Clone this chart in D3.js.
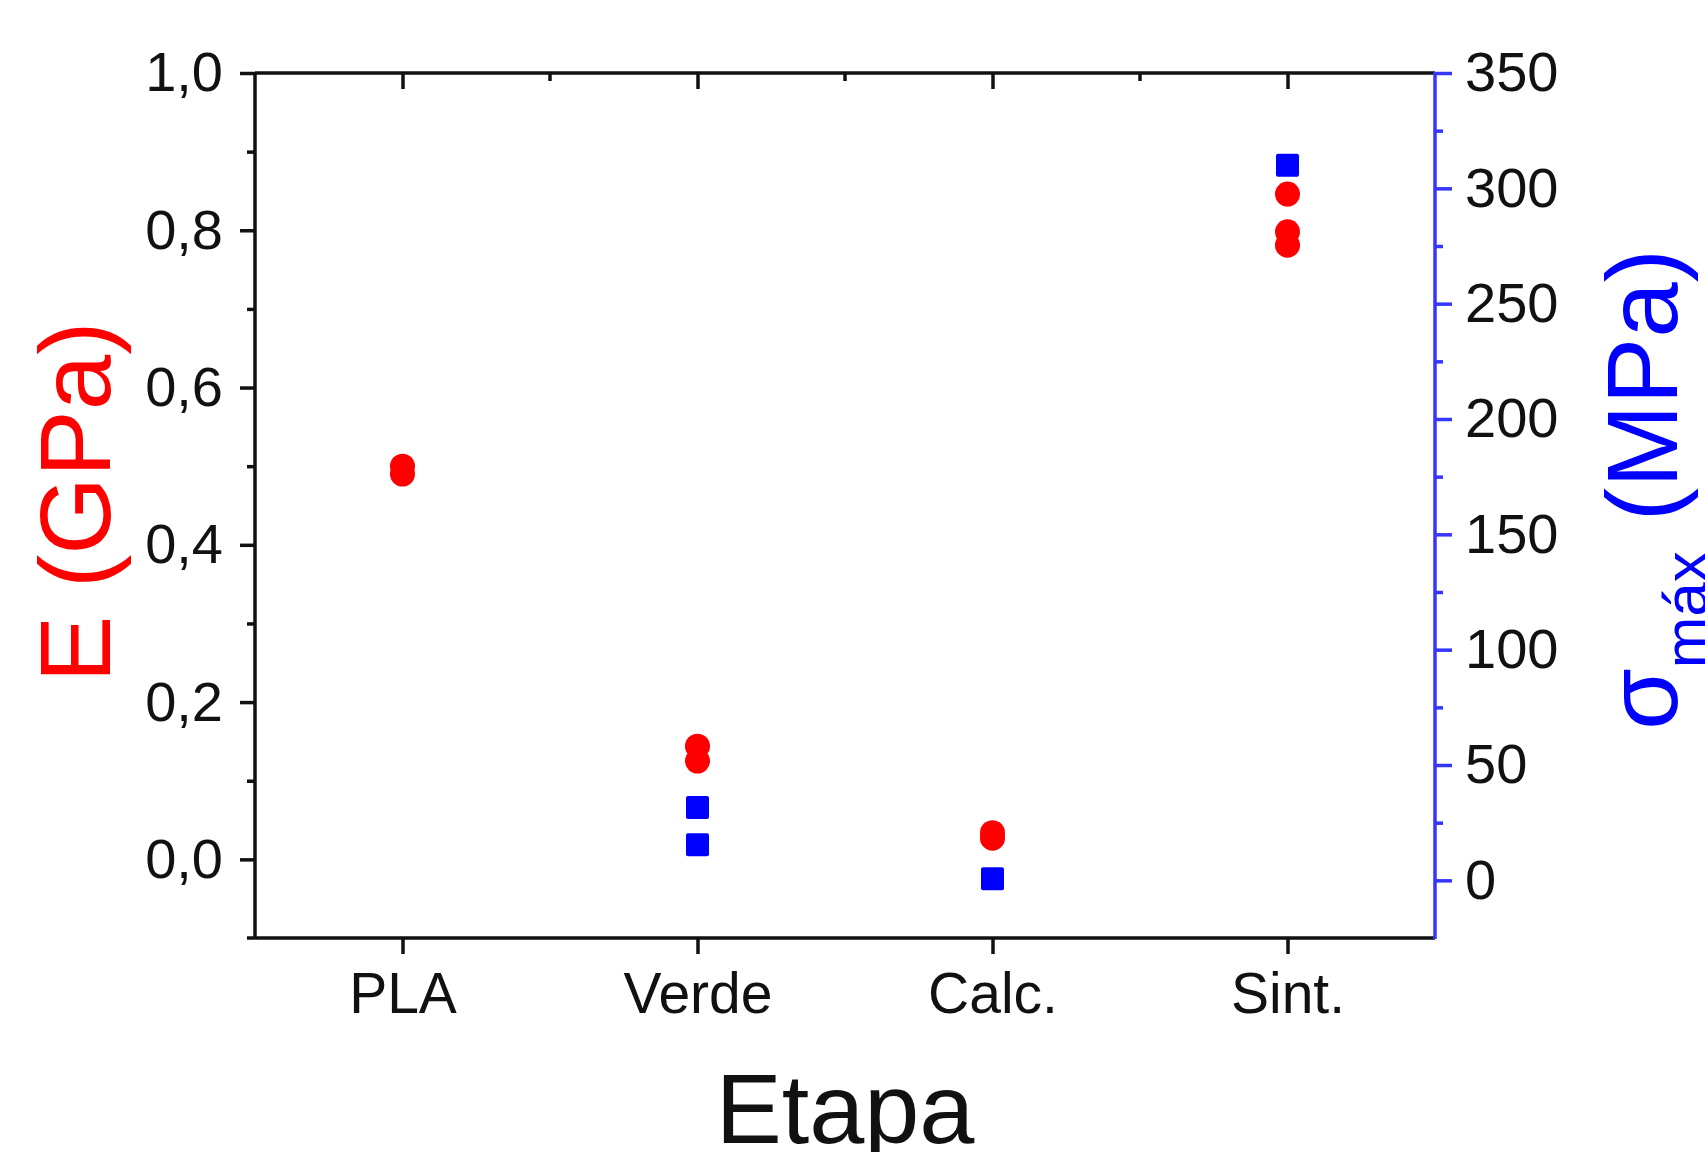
<!DOCTYPE html>
<html>
<head>
<meta charset="utf-8">
<script src="https://cdn.jsdelivr.net/npm/d3@7"></script>
<style>
  body { margin: 0; background: #fff; }
  svg { display: block; font-family: "Liberation Sans", Arial, sans-serif; }
</style>
</head>
<body>
<svg width="1705" height="1152"></svg>
<script>
// chart values
var stages = ['PLA', 'Verde', 'Calc.', 'Sint.'];

var eStage = ['PLA', 'PLA', 'Verde', 'Verde', 'Calc.', 'Calc.', 'Sint.', 'Sint.', 'Sint.'];
var eValues = [0.50, 0.49, 0.144, 0.125, 0.034, 0.027, 0.846, 0.798, 0.781];

var sStage = ['Verde', 'Verde', 'Calc.', 'Sint.'];
var sValues = [31.6, 15.4, 0.7, 310];

var leftTicks = [0, 0.2, 0.4, 0.6, 0.8, 1.0];
var leftMinor = [0.1, 0.3, 0.5, 0.7, 0.9];
var rightTicks = [0, 50, 100, 150, 200, 250, 300, 350];
var rightMinor = [25, 75, 125, 175, 225, 275, 325];

var svg = d3.select('svg');
var plot = {l: 255, r: 1435, t: 73, b: 938};

var ink = '#111';
var axisBlue = '#3535ff';
var lw = 3.5;

var x = d3.scalePoint()
    .domain(stages)
    .range([plot.l, plot.r])
    .padding(0.5);

var yLeft = d3.scaleLinear()
    .domain([-0.1, 1.0])
    .range([plot.b, plot.t]);

var yRight = d3.scaleLinear()
    .domain([-25, 350])
    .range([plot.b, plot.t]);

var comma = d3.formatLocale({decimal: ',', thousands: '.', grouping: [3], currency: ['', '']});

// minor ticks first so major axes draw over them
svg.append('g')
    .attr('transform', 'translate(' + plot.l + ',0)')
    .call(d3.axisLeft(yLeft).tickValues(leftMinor).tickSize(8).tickFormat(''))
    .call(function(g) { g.select('.domain').remove(); })
    .selectAll('line').attr('stroke', ink).attr('stroke-width', lw);

svg.append('g')
    .attr('transform', 'translate(' + plot.r + ',0)')
    .call(d3.axisRight(yRight).tickValues(rightMinor).tickSize(8).tickFormat(''))
    .call(function(g) { g.select('.domain').remove(); })
    .selectAll('line').attr('stroke', axisBlue).attr('stroke-width', lw);

// top axis: ticks inward, small ones halfway between stages
var mids = d3.pairs(stages).map(function(p) { return (x(p[0]) + x(p[1])) / 2; });
svg.append('g')
    .selectAll('line')
    .data(mids)
    .enter()
    .append('line')
    .attr('x1', function(d) { return d; })
    .attr('x2', function(d) { return d; })
    .attr('y1', plot.t)
    .attr('y2', plot.t + 8)
    .attr('stroke', ink)
    .attr('stroke-width', lw);

svg.append('g')
    .attr('transform', 'translate(0,' + plot.t + ')')
    .call(d3.axisBottom(x).tickSize(16).tickFormat(''))
    .call(function(g) {
      g.select('.domain').attr('d', 'M' + plot.l + ',0H' + plot.r);
    })
    .selectAll('line, path').attr('stroke', ink).attr('stroke-width', lw);

// bottom axis
var xAxisG = svg.append('g')
    .attr('transform', 'translate(0,' + plot.b + ')')
    .call(d3.axisBottom(x).tickSize(16).tickPadding(19))
    .call(function(g) {
      g.select('.domain').attr('d', 'M' + (plot.l - 8) + ',0H' + plot.r);
    });
xAxisG.selectAll('line, path').attr('stroke', ink).attr('stroke-width', lw);
xAxisG.selectAll('text')
    .attr('fill', ink)
    .style('font-size', '57px')
    .style('font-family', '"Liberation Sans", Arial, sans-serif');

// left axis
var yLeftG = svg.append('g')
    .attr('transform', 'translate(' + plot.l + ',0)')
    .call(d3.axisLeft(yLeft).tickValues(leftTicks).tickSize(15).tickPadding(17)
      .tickFormat(comma.format('.1f')))
    .call(function(g) {
      g.select('.domain').attr('d', 'M0,' + (plot.b + 1) + 'V' + (plot.t - 1));
    });
yLeftG.selectAll('line, path').attr('stroke', ink).attr('stroke-width', lw);
yLeftG.selectAll('text')
    .attr('fill', ink)
    .style('font-size', '56px')
    .style('font-family', '"Liberation Sans", Arial, sans-serif');

// right axis
var yRightG = svg.append('g')
    .attr('transform', 'translate(' + plot.r + ',0)')
    .call(d3.axisRight(yRight).tickValues(rightTicks).tickSize(17).tickPadding(13))
    .call(function(g) {
      g.select('.domain').attr('d', 'M0,' + (plot.b + 1) + 'V' + (plot.t - 1));
    });
yRightG.selectAll('line, path').attr('stroke', axisBlue).attr('stroke-width', lw);
yRightG.selectAll('text')
    .attr('fill', ink)
    .style('font-size', '56px')
    .style('font-family', '"Liberation Sans", Arial, sans-serif');

// points
var ePoints = eValues.map(function(v, i) { return {stage: eStage[i], value: v}; });
var sPoints = sValues.map(function(v, i) { return {stage: sStage[i], value: v}; });

svg.append('g').selectAll('circle')
    .data(ePoints)
    .enter()
    .append('circle')
    .attr('cx', function(d) { return x(d.stage); })
    .attr('cy', function(d) { return yLeft(d.value); })
    .attr('r', 12.5)
    .attr('fill', '#ff0000');

var sq = 23;
svg.append('g').selectAll('rect')
    .data(sPoints)
    .enter()
    .append('rect')
    .attr('x', function(d) { return x(d.stage) - sq / 2; })
    .attr('y', function(d) { return yRight(d.value) - sq / 2; })
    .attr('width', sq)
    .attr('height', sq)
    .attr('rx', 2)
    .attr('fill', '#0000ff');

// axis titles
svg.append('text')
    .attr('transform', 'translate(110,502) rotate(-90)')
    .attr('text-anchor', 'middle')
    .attr('fill', '#ff0000')
    .style('font-size', '100px')
    .text('E (GPa)');

svg.append('text')
    .attr('x', (plot.l + plot.r) / 2)
    .attr('y', 1143)
    .attr('text-anchor', 'middle')
    .attr('fill', ink)
    .style('font-size', '99px')
    .text('Etapa');

var rTitle = svg.append('text')
    .attr('transform', 'translate(1677,730) rotate(-90)')
    .attr('fill', '#0000ff')
    .style('font-size', '100px');
rTitle.append('tspan').text('σ');
rTitle.append('tspan')
    .attr('dy', 30)
    .style('font-size', '62px')
    .text('máx');
rTitle.append('tspan')
    .attr('dy', -30)
    .attr('dx', 30)
    .text('(MPa)');
</script>
</body>
</html>
